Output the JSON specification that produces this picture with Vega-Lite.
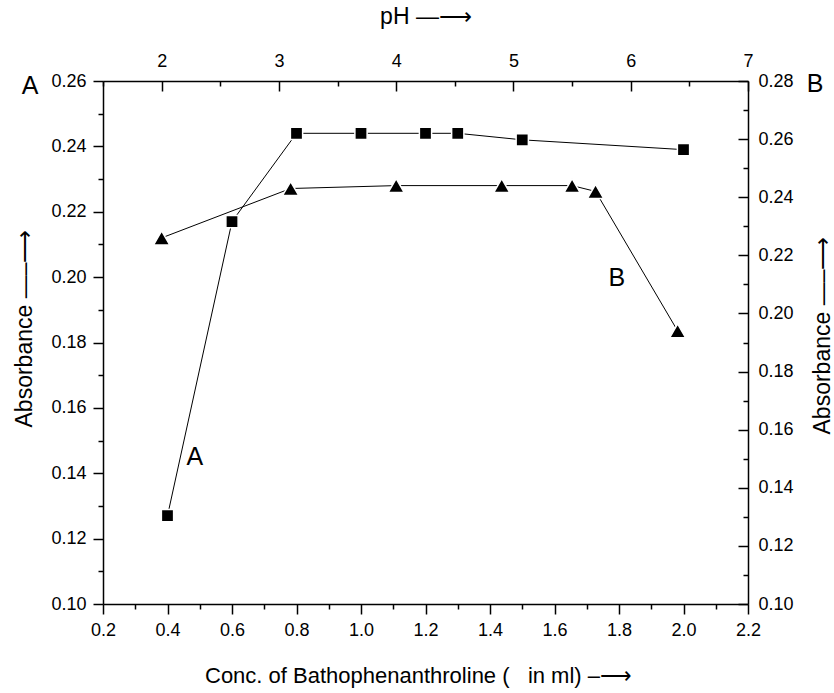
{
  "$schema": "https://vega.github.io/schema/vega-lite/v6.json",
  "width": 645,
  "height": 523,
  "autosize": {"type": "none"},
  "padding": {"left": 103, "top": 81, "right": 86, "bottom": 89},
  "background": "white",
  "config": {
    "view": {"stroke": null},
    "font": "Liberation Sans"
  },
  "datasets": {
    "A": [
      {"conc": 0.4, "abs": 0.127},
      {"conc": 0.6, "abs": 0.217},
      {"conc": 0.8, "abs": 0.244},
      {"conc": 1.0, "abs": 0.244},
      {"conc": 1.2, "abs": 0.244},
      {"conc": 1.3, "abs": 0.244},
      {"conc": 1.5, "abs": 0.242},
      {"conc": 2.0, "abs": 0.239}
    ],
    "B": [
      {"pH": 2.0, "abs": 0.226},
      {"pH": 3.1, "abs": 0.243},
      {"pH": 4.0, "abs": 0.244},
      {"pH": 4.9, "abs": 0.244},
      {"pH": 5.5, "abs": 0.244},
      {"pH": 5.7, "abs": 0.242},
      {"pH": 6.4, "abs": 0.194}
    ],
    "labels": [
      {"conc": 0.485, "abs": 0.145, "label": "A"},
      {"conc": 1.793, "abs": 0.1996, "label": "B"},
      {"conc": -0.026, "abs": 0.2585, "label": "A"},
      {"conc": 2.408, "abs": 0.259, "label": "B"}
    ]
  },
  "layer": [
    {
      "data": {"name": "A"},
      "encoding": {
        "x": {
          "field": "conc", "type": "quantitative",
          "scale": {"domain": [0.2, 2.2], "nice": false, "zero": false},
          "axis": {
            "orient": "bottom",
            "values": [0.2,0.3,0.4,0.5,0.6,0.7,0.8,0.9,1.0,1.1,1.2,1.3,1.4,1.5,1.6,1.7,1.8,1.9,2.0,2.1,2.2],
            "labelExpr": "round(datum.value*10)%2==0 ? format(datum.value,'.1f') : ''",
            "tickSize": {"condition": {"test": "round(datum.value*10)%2==0", "value": 10}, "value": 5},
            "grid": false, "domainColor": "black", "domainWidth": 1.5, "tickColor": "black", "tickWidth": 1.5,
            "labelColor": "black", "labelFont": "Liberation Sans", "labelFontSize": 18,
            "labelPadding": 7,
            "labelFlush": false,
            "labelOverlap": false,
            "title": "Conc. of Bathophenanthroline (\u00a0\u00a0\u00a0in ml) –⟶",
            "titleFont": "Liberation Sans", "titleFontSize": 22, "titleFontWeight": "normal", "titleColor": "black",
            "titleX": 315,
            "titlePadding": 26
          }
        },
        "y": {
          "field": "abs", "type": "quantitative",
          "scale": {"domain": [0.10, 0.26], "nice": false, "zero": false},
          "axis": {
            "orient": "left",
            "values": [0.10,0.11,0.12,0.13,0.14,0.15,0.16,0.17,0.18,0.19,0.20,0.21,0.22,0.23,0.24,0.25,0.26],
            "labelExpr": "round(datum.value*100)%2==0 ? format(datum.value,'.2f') : ''",
            "tickSize": {"condition": {"test": "round(datum.value*100)%2==0", "value": 10}, "value": 5},
            "grid": false, "domainColor": "black", "domainWidth": 1.5, "tickColor": "black", "tickWidth": 1.5,
            "labelColor": "black", "labelFont": "Liberation Sans", "labelFontSize": 18,
            "labelPadding": 7,
            "labelFlush": false,
            "labelOverlap": false,
            "title": "Absorbance  —–⟶",
            "titleFont": "Liberation Sans", "titleFontSize": 23, "titleFontWeight": "normal", "titleColor": "black",
            "titleY": 247,
            "titlePadding": 14
          }
        }
      },
      "layer": [
        {"mark": {"type": "line", "color": "black", "strokeWidth": 1}},
        {"mark": {"type": "point", "shape": "square", "filled": true, "fill": "black", "stroke": "white", "strokeWidth": 1.5, "size": 150, "opacity": 1}},
        {
          "data": {"name": "labels"},
          "mark": {"type": "text", "font": "Liberation Sans", "fontSize": 25, "color": "black", "align": "center", "baseline": "middle"},
          "encoding": {"text": {"field": "label"}}
        }
      ]
    },
    {
      "data": {"name": "B"},
      "encoding": {
        "x": {
          "field": "pH", "type": "quantitative",
          "scale": {"domain": [1.5, 7], "nice": false, "zero": false},
          "axis": {
            "orient": "top",
            "values": [1.5,2,2.5,3,3.5,4,4.5,5,5.5,6,6.5,7],
            "labelExpr": "datum.value%1==0 ? format(datum.value,'d') : ''",
            "tickSize": {"condition": {"test": "datum.value%1==0", "value": -10}, "value": -5},
            "grid": false, "domainColor": "black", "domainWidth": 1.5, "tickColor": "black", "tickWidth": 1.5,
            "labelColor": "black", "labelFont": "Liberation Sans", "labelFontSize": 18,
            "labelPadding": 21,
            "labelFlush": false,
            "labelOverlap": false,
            "title": "pH  —⟶",
            "titleFont": "Liberation Sans", "titleFontSize": 23, "titleFontWeight": "normal", "titleColor": "black",
            "titlePadding": 19
          }
        },
        "y": {
          "field": "abs", "type": "quantitative",
          "scale": {"domain": [0.10, 0.28], "nice": false, "zero": false},
          "axis": {
            "orient": "right",
            "values": [0.10,0.11,0.12,0.13,0.14,0.15,0.16,0.17,0.18,0.19,0.20,0.21,0.22,0.23,0.24,0.25,0.26,0.27,0.28],
            "labelExpr": "round(datum.value*100)%2==0 ? format(datum.value,'.2f') : ''",
            "tickSize": {"condition": {"test": "round(datum.value*100)%2==0", "value": -10}, "value": -5},
            "grid": false, "domainColor": "black", "domainWidth": 1.5, "tickColor": "black", "tickWidth": 1.5,
            "labelColor": "black", "labelFont": "Liberation Sans", "labelFontSize": 18,
            "labelPadding": 20,
            "labelFlush": false,
            "labelOverlap": false,
            "title": "Absorbance  —–⟶",
            "titleFont": "Liberation Sans", "titleFontSize": 23, "titleFontWeight": "normal", "titleColor": "black",
            "titleAngle": -90,
            "titleY": 254,
            "titlePadding": 41
          }
        }
      },
      "layer": [
        {"mark": {"type": "line", "color": "black", "strokeWidth": 1}},
        {"mark": {"type": "point", "shape": "triangle-up", "filled": true, "fill": "black", "stroke": "white", "strokeWidth": 1.5, "size": 260, "opacity": 1}}
      ]
    }
  ],
  "resolve": {"scale": {"x": "independent", "y": "independent"}}
}
